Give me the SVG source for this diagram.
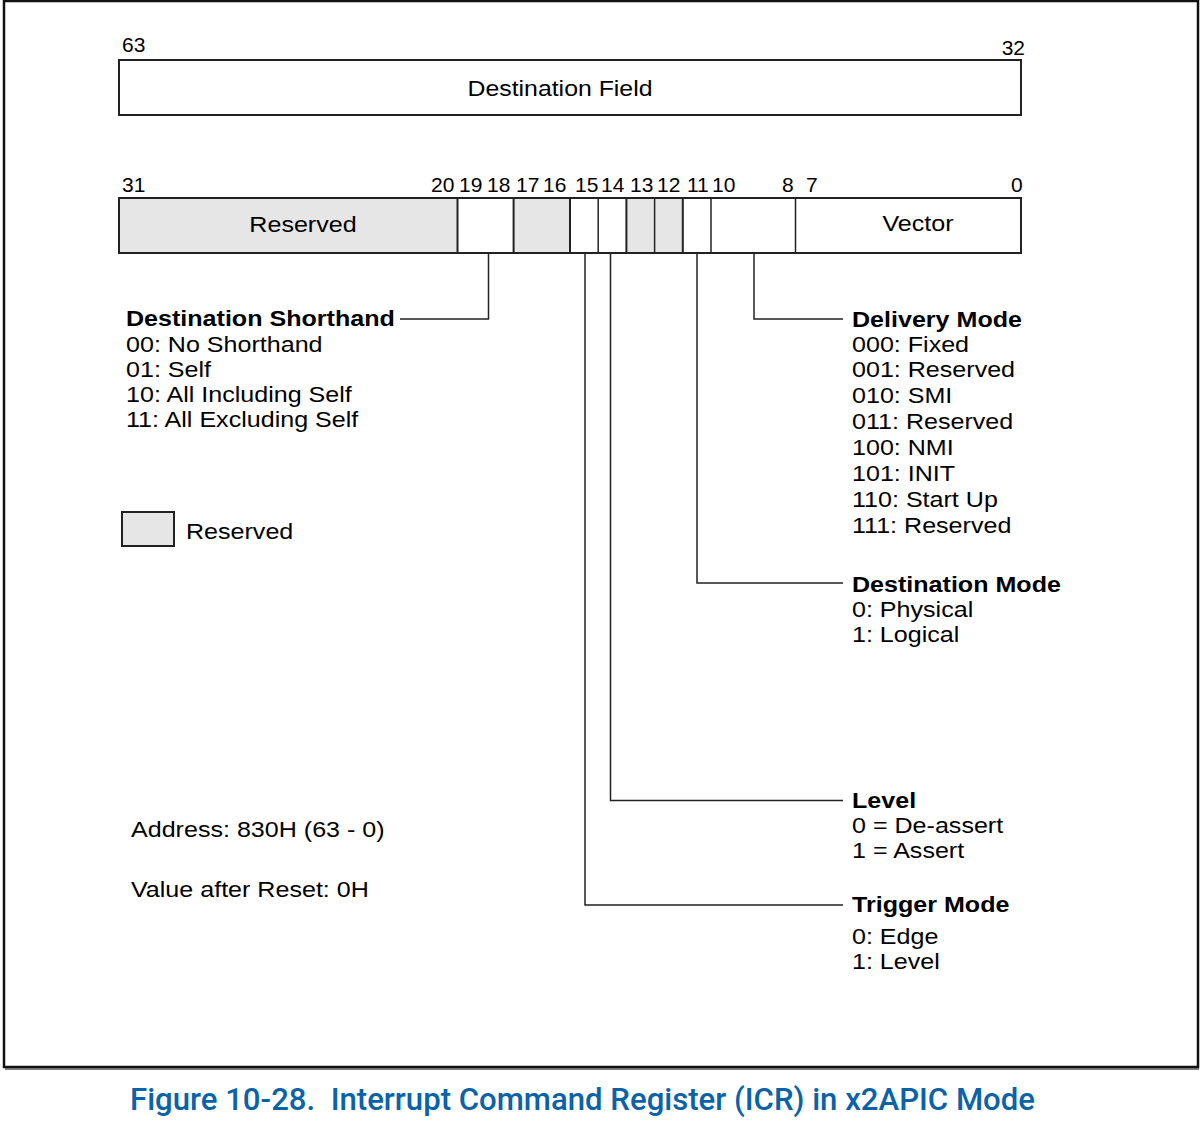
<svg xmlns="http://www.w3.org/2000/svg" width="1204" height="1130" viewBox="0 0 1204 1130">
  <style>
    .t { font-family: "Liberation Sans", Arial, sans-serif; font-size: 22.4px; fill: #000; }
    .b { font-weight: bold; }
    .n { font-family: "Liberation Sans", Arial, sans-serif; font-size: 21px; fill: #000; }
    .box { fill: #fff; stroke: #222; stroke-width: 2; }
    .res { fill: #e6e6e6; stroke: #222; stroke-width: 2; }
    .div { stroke: #222; stroke-width: 1.5; fill: none; }
    .con { stroke: #222; stroke-width: 1.5; fill: none; }
    .cap { font-family: Roboto, "Noto Sans", sans-serif; font-weight: 500; font-size: 31px; fill: #0a62a9; }
  </style>
  <rect x="0" y="0" width="1204" height="1130" fill="#fff"/>
  <g id="frame">
    <rect x="4" y="1" width="1194" height="1066" fill="none" stroke="#111" stroke-width="2.5"/>
    <line x1="5" y1="1069" x2="1199" y2="1069" stroke="#555" stroke-width="1.5"/>
  </g>

  <g id="upper-register">
    <rect class="box" x="119" y="60" width="902" height="55"/>
    <text class="t" x="560" y="96" text-anchor="middle" textLength="185" lengthAdjust="spacingAndGlyphs">Destination Field</text>
    <text class="n" x="122" y="52">63</text>
    <text class="n" x="1025" y="55" text-anchor="end">32</text>
  </g>

  <g id="lower-register">
    <rect class="box" x="119" y="198" width="902" height="55"/>
    <rect class="res" x="119" y="198" width="338.5" height="55"/>
    <rect class="res" x="513.6" y="198" width="56.4" height="55"/>
    <rect class="res" x="626.4" y="198" width="56.4" height="55"/>
    <line class="div" x1="598.2" y1="198" x2="598.2" y2="253"/>
    <line class="div" x1="654.6" y1="198" x2="654.6" y2="253"/>
    <line class="div" x1="711" y1="198" x2="711" y2="253"/>
    <line class="div" x1="795.5" y1="198" x2="795.5" y2="253"/>
    <rect x="119" y="198" width="902" height="55" fill="none" stroke="#222" stroke-width="2"/>
    <text class="t" x="303" y="232" text-anchor="middle" transform="matrix(1.12 0 0 1 -36.36 0)">Reserved</text>
    <text class="t" x="918" y="231" text-anchor="middle" transform="matrix(1.12 0 0 1 -110.16 0)">Vector</text>
  </g>

  <g id="bit-numbers" class="n">
    <text x="122" y="192">31</text>
    <text x="431" y="192">20</text>
    <text x="459" y="192">19</text>
    <text x="487" y="192">18</text>
    <text x="516" y="192">17</text>
    <text x="543" y="192">16</text>
    <text x="575" y="192">15</text>
    <text x="601" y="192">14</text>
    <text x="630" y="192">13</text>
    <text x="657" y="192">12</text>
    <text x="687" y="192">11</text>
    <text x="712" y="192">10</text>
    <text x="782" y="192">8</text>
    <text x="806" y="192">7</text>
    <text x="1011" y="192">0</text>
  </g>

  <g id="connectors">
    <polyline class="con" points="488.5,253 488.5,319 400,319"/>
    <polyline class="con" points="754,253 754,319 843,319"/>
    <polyline class="con" points="697,253 697,583 843,583"/>
    <polyline class="con" points="610.5,253 610.5,800.5 843,800.5"/>
    <polyline class="con" points="585,253 585,905 843,905"/>
  </g>

  <g id="destination-shorthand" class="t" transform="matrix(1.12 0 0 1 -15.12 0)">
    <text class="b" x="126" y="326">Destination Shorthand</text>
    <text x="126" y="352">00: No Shorthand</text>
    <text x="126" y="377">01: Self</text>
    <text x="126" y="402">10: All Including Self</text>
    <text x="126" y="427">11: All Excluding Self</text>
  </g>

  <g id="delivery-mode" class="t" transform="matrix(1.12 0 0 1 -102.24 0)">
    <text class="b" x="852" y="327">Delivery Mode</text>
    <text x="852" y="352">000: Fixed</text>
    <text x="852" y="377">001: Reserved</text>
    <text x="852" y="403">010: SMI</text>
    <text x="852" y="429">011: Reserved</text>
    <text x="852" y="455">100: NMI</text>
    <text x="852" y="481">101: INIT</text>
    <text x="852" y="507">110: Start Up</text>
    <text x="852" y="533">111: Reserved</text>
  </g>

  <g id="destination-mode" class="t" transform="matrix(1.12 0 0 1 -102.24 0)">
    <text class="b" x="852" y="592">Destination Mode</text>
    <text x="852" y="617">0: Physical</text>
    <text x="852" y="642">1: Logical</text>
  </g>

  <g id="level" class="t" transform="matrix(1.12 0 0 1 -102.24 0)">
    <text class="b" x="852" y="808">Level</text>
    <text x="852" y="833">0 = De-assert</text>
    <text x="852" y="858">1 = Assert</text>
  </g>

  <g id="trigger-mode" class="t" transform="matrix(1.12 0 0 1 -102.24 0)">
    <text class="b" x="852" y="912">Trigger Mode</text>
    <text x="852" y="944">0: Edge</text>
    <text x="852" y="969">1: Level</text>
  </g>

  <g id="legend">
    <rect class="res" x="122" y="512" width="52" height="34"/>
    <text class="t" x="186" y="539" transform="matrix(1.12 0 0 1 -22.32 0)">Reserved</text>
  </g>

  <g id="notes" class="t" transform="matrix(1.12 0 0 1 -15.72 0)">
    <text x="131" y="837">Address: 830H (63 - 0)</text>
    <text x="131" y="897">Value after Reset: 0H</text>
  </g>

  <text class="cap" x="130" y="1110" textLength="905" lengthAdjust="spacingAndGlyphs" xml:space="preserve">Figure 10-28.&#160; Interrupt Command Register (ICR) in x2APIC Mode</text>
</svg>
